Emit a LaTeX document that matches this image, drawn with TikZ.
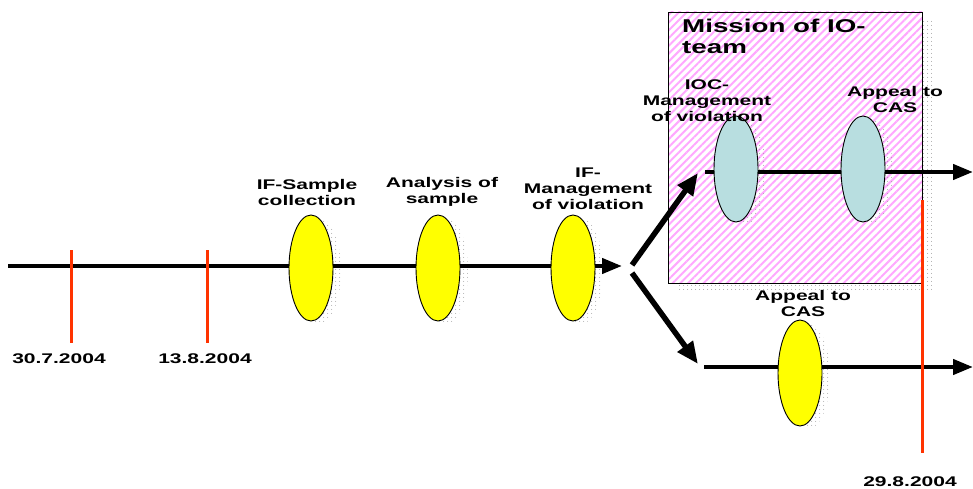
\documentclass[tikz,border=0pt]{standalone}
\usepackage{fontspec}
\newfontfamily\labfont{Liberation Sans}[FakeStretch=1.5]
\usetikzlibrary{arrows.meta,patterns.meta,shapes.geometric}
\definecolor{tickred}{HTML}{FF3300}
\definecolor{evyellow}{HTML}{FFFF00}
\definecolor{evblue}{HTML}{B8DEE0}
\definecolor{hatchpink}{HTML}{FFA8FF}
\begin{document}
\begin{tikzpicture}[x=1pt,y=-1pt,
  lbl/.style={font=\labfont\bfseries\fontsize{14}{16}\selectfont, align=center, inner sep=0pt},
  ttl/.style={font=\labfont\bfseries\fontsize{18.5}{21}\selectfont, align=left, inner sep=0pt},
  evt/.style={ellipse, draw=black, line width=0.9pt, minimum width=44pt, minimum height=106pt, inner sep=0pt},
  dotshade/.style={pattern={Dots[distance=4pt,radius=0.6pt]}, pattern color=gray!80},
  evshadow/.style={ellipse, dotshade, minimum width=44pt, minimum height=106pt, inner sep=0pt},
  ticklne/.style={draw=tickred, line width=3pt},
  flow/.style={line width=4.2pt, -{Triangle[length=20pt,width=15pt]}},
  branch/.style={line width=5.5pt, -{Triangle[length=22pt,width=18pt]}}
]
\useasboundingbox (0,0) rectangle (973,489);

% box of IO team
\node[dotshade, minimum width=254pt, minimum height=271pt, inner sep=0pt] (boxsh) at (805,155) {};
\node[fill=white, minimum width=254pt, minimum height=271pt, inner sep=0pt] (boxbg) at (795,147.5) {};
\node[pattern={Lines[angle=45,distance=5.5pt,line width=2pt]}, pattern color=hatchpink, draw=black, line width=0.8pt, minimum width=254pt, minimum height=271pt, inner sep=0pt] (box) at (795,147.5) {};

% shadows
\node[evshadow] (s1) at (319,271) {};
\node[evshadow] (s2) at (446,271) {};
\node[evshadow] (s3) at (581,271) {};
\node[evshadow] (s4) at (808,376) {};
\node[evshadow] (s5) at (744,172) {};
\node[evshadow] (s6) at (871,172) {};

% coordinates
\coordinate (start) at (8,266);
\coordinate (split) at (622,266);
\coordinate (b0) at (632,265);
\coordinate (b1) at (698,173);
\coordinate (b2) at (632,273);
\coordinate (b3) at (698,364);
\coordinate (u0) at (705,172);
\coordinate (u1) at (973,172);
\coordinate (l0) at (704,367);
\coordinate (l1) at (973,367);
\coordinate (t1a) at (71,250);
\coordinate (t1b) at (71,343);
\coordinate (t2a) at (207,250);
\coordinate (t2b) at (207,343);
\coordinate (r0) at (922,200);
\coordinate (r1) at (922,453);

% lines
\draw[flow] (start) -- (split);
\draw[branch] (b0) -- (b1);
\draw[branch] (b2) -- (b3);
\draw[flow] (u0) -- (u1);
\draw[flow] (l0) -- (l1);

% events
\node[evt, fill=evyellow] (e1) at (311,268) {};
\node[evt, fill=evyellow] (e2) at (438,268) {};
\node[evt, fill=evyellow] (e3) at (573,268) {};
\node[evt, fill=evyellow] (e4) at (800,373) {};
\node[evt, fill=evblue] (e5) at (736,169) {};
\node[evt, fill=evblue] (e6) at (863,169) {};

% red date lines
\draw[ticklne] (t1a) -- (t1b);
\draw[ticklne] (t2a) -- (t2b);
\draw[ticklne] (r0) -- (r1);

% labels
\node[lbl] (d1) at (59,359) {30.7.2004};
\node[lbl] (d2) at (205,359) {13.8.2004};
\node[lbl] (d3) at (910,482) {29.8.2004};
\node[lbl] (n1) at (307,192) {IF-Sample\\collection};
\node[lbl] (n2) at (442,192) {Analysis of\\sample};
\node[lbl] (n3) at (588,189) {IF-\\Management\\of violation};
\node[lbl] (n4) at (707,101) {IOC-\\Management\\of violation};
\node[lbl] (n5) at (895,99) {Appeal to\\CAS};
\node[lbl] (n6) at (803,303) {Appeal to\\CAS};
\node[ttl, anchor=north west] (title) at (682,19) {Mission of IO-\\team};
\end{tikzpicture}
\end{document}
